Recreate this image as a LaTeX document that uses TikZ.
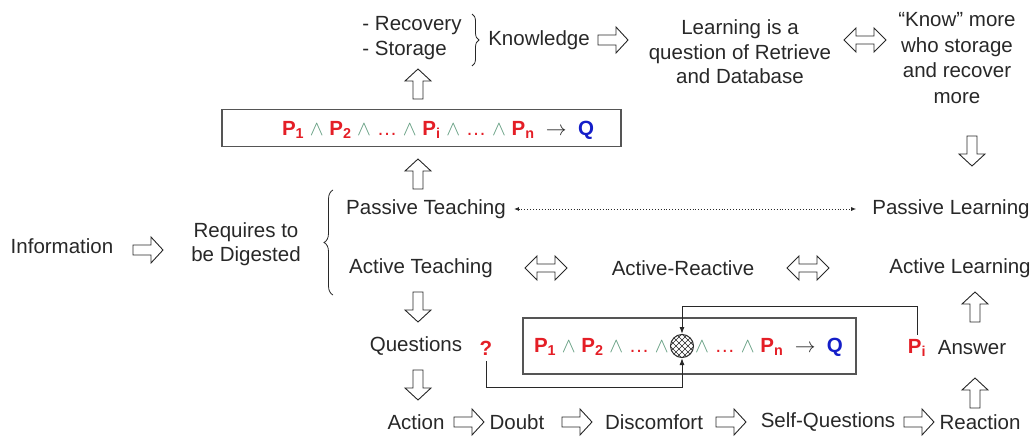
\documentclass[tikz,border=0pt]{standalone}
\usepackage{fontspec}
\setmainfont{Liberation Sans}
\usetikzlibrary{decorations.pathreplacing,arrows.meta,calc}
\definecolor{pred}{RGB}{228,30,38}
\definecolor{qblue}{RGB}{20,30,200}
\definecolor{andc}{RGB}{95,155,125}
\definecolor{ink}{RGB}{40,40,40}
\definecolor{boxc}{RGB}{85,85,85}
\newcommand\myP[1]{\textcolor{pred}{\textbf{P}\textsubscript{\textbf{#1}}}}
\newcommand\myand{\textcolor{andc}{$\wedge$}}
\newcommand\mydots{\textcolor{pred}{\ldots}}
\newcommand\myQ{\textcolor{qblue}{\textbf{Q}}}
\begin{document}
\begin{tikzpicture}[x=1pt,y=-1pt,
  font=\fontsize{20.5}{24.5}\selectfont,
  txt/.style={inner sep=0pt, align=center, text=ink},
  fbox/.style={draw=boxc, line width=1.6pt, inner sep=0pt},
  conn/.style={ink, line width=1pt, -{Latex[length=7pt,width=5pt]}},
  harrow/.pic={\draw[ink, line width=0.9pt, fill=white] (-15,-5) -- (3,-5) -- (3,-13) -- (15,0) -- (3,13) -- (3,5) -- (-15,5) -- cycle;},
  dblarrow/.pic={\draw[ink, line width=0.9pt, fill=white] (-21,0) -- (-9,-12) -- (-9,-4) -- (9,-4) -- (9,-12) -- (21,0) -- (9,12) -- (9,4) -- (-9,4) -- (-9,12) -- cycle;},
  bracestyle/.style={ink, line width=0.8pt, decorate}]
\useasboundingbox (0,0) rectangle (1034,439);

% top row
\node[txt, align=left] (recov) at (412,38) {- Recovery\\- Storage};
\draw[bracestyle, decoration={brace, amplitude=7pt}] (472,14) -- (472,66);
\node[txt] (know) at (539,40) {Knowledge};
\pic at (613,40) {harrow};
\node[txt] (learn) at (740,52) {Learning is a\\question of Retrieve\\and Database};
\pic at (865,40) {dblarrow};
\node[txt, font=\fontsize{20.5}{25.5}\selectfont] (kmore) at (957,58) {“Know” more\\who storage\\and recover\\more};

% first formula box
\pic[rotate=90] at (418,84) {harrow};
\node[fbox, minimum width=399pt, minimum height=37pt] (box1) at (421.5,128) {};
\node[txt, anchor=base] (f1) at (438,135) {\myP{1} \myand{} \myP{2} \myand{} \mydots{} \myand{} \myP{i} \myand{} \mydots{} \myand{} \myP{n} ~$\rightarrow$~ \myQ};
\pic[rotate=90] at (418,174) {harrow};
\pic[rotate=-90] at (972,151) {harrow};

% middle
\node[txt] (info) at (62,246) {Information};
\pic at (148,250) {harrow};
\node[txt] (req) at (246,244) {Requires to\\be Digested};
\draw[bracestyle, decoration={brace, amplitude=9pt}] (333,295) -- (333,190);
\node[txt] (passT) at (426,209) {Passive Teaching};
\node[txt] (passL) at (951,209) {Passive Learning};
\draw[ink, dotted, line width=0.9pt, {Latex[length=5pt,width=4pt]}-{Latex[length=5pt,width=4pt]}] ([xshift=8pt]passT.east) -- ([xshift=-16pt]passL.west);
\node[txt] (actT) at (421,268) {Active Teaching};
\pic at (546,268) {dblarrow};
\node[txt] (actR) at (683,268) {Active-Reactive};
\pic at (808,268) {dblarrow};
\node[txt] (actL) at (960,268) {Active Learning};

% questions row
\pic[rotate=-90] at (418,307) {harrow};
\node[txt] (quest) at (416,346) {Questions};
\node[txt, text=pred, font=\fontsize{20.5}{24.5}\selectfont\bfseries] (q) at (486,348) {?};
\node[fbox, minimum width=333pt, minimum height=56pt] (box2) at (689.5,346) {};
\node[circle, draw=ink, line width=1pt, minimum size=23pt, inner sep=0pt] (circ) at (682,346) {};
\begin{scope}
  \clip (682,346) circle (11.5pt);
  \foreach \k in {-4,...,4} {
    \draw[ink, line width=0.6pt] (682+\k*6-20, 326) -- ++(40,40);
    \draw[ink, line width=0.6pt] (682+\k*6-20, 366) -- ++(40,-40);
  }
\end{scope}
\node[txt, anchor=base east] (fl) at ($(circ.west)+(-1,6)$) {\myP{1} \myand{} \myP{2} \myand{} \mydots{} \myand};
\node[txt, anchor=base west] (fr) at ($(circ.east)+(1,6)$) {\myand{} \mydots{} \myand{} \myP{n} ~$\rightarrow$~ \myQ};
\node[txt] (pi) at (917,348) {\myP{i}};
\node[txt] (ans) at (972,348) {Answer};
\coordinate (lowc) at (682,387);
\coordinate (highc) at (682,306);
\draw[conn] ([yshift=-6pt]q.south) |- (lowc) -- (circ.south);
\draw[conn] ([yshift=4pt]pi.north) |- (highc) -- (circ.north);
\pic[rotate=90] at (975,307) {harrow};
\pic[rotate=90] at (975,393) {harrow};
\pic[rotate=-90] at (418,385) {harrow};

% bottom row
\node[txt] (action) at (416,422) {Action};
\pic at (469,422) {harrow};
\node[txt] (doubt) at (517,422) {Doubt};
\pic at (577,422) {harrow};
\node[txt] (disc) at (654,422) {Discomfort};
\pic at (731,422) {harrow};
\node[txt] (selfq) at (828,422) {Self-Questions};
\pic at (919,422) {harrow};
\node[txt] (react) at (980,422) {Reaction};
\end{tikzpicture}
\end{document}
